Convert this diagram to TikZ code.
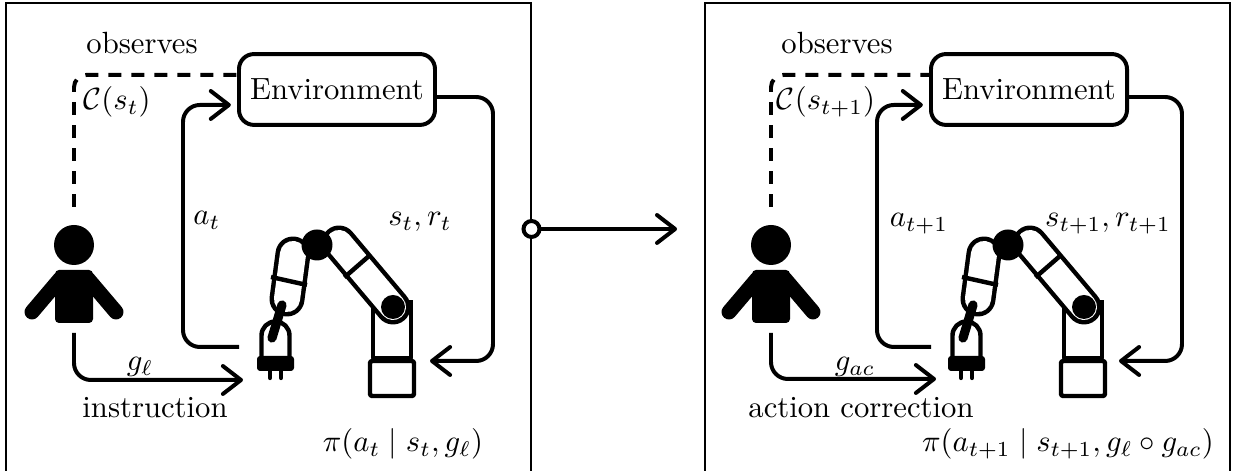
\documentclass[tikz,border=0pt]{standalone}
\usetikzlibrary{arrows.meta}
\begin{document}
\begin{tikzpicture}[x=0.326pt,y=-0.326pt,
  conn/.style={line width=1.3pt, rounded corners=5.5pt},
  flow/.style={conn, -{Straight Barb[length=5.9pt,width=9.1pt,round]}},
  obsline/.style={line width=1.3pt, dash pattern=on 4.2pt off 3.3pt, rounded corners=4pt},
  envbox/.style={draw, line width=1.3pt, rounded corners=4.9pt, minimum width=63.9pt, minimum height=23.1pt, inner sep=0pt},
  panel/.style={draw, line width=0.6pt},
  lbl/.style={anchor=base, inner sep=0pt},
  rob/.style={line width=1.45pt, line join=round},
  linkout/.style={line width=11.4pt, line cap=round},
  linkin/.style={white, line width=8.5pt, line cap=round},
  person/.pic={
    \fill (0,0) circle[radius=20];
    \fill[rounded corners=1.3pt] (-19,25) rectangle (19,78);
    \draw[line width=4.9pt, line cap=round] (-14,34) -- (-42,67);
    \draw[line width=4.9pt, line cap=round] (14,34) -- (42,67);
  },
  robot/.pic={
    % lower column and base
    \draw[rob, fill=white] (56,55) -- (56,113) -- (94,113) -- (94,55);
    \draw[rob, fill=white, rounded corners=0.7pt] (53,116) rectangle (97,151);
    % forearm link
    \draw[linkout] (-24,9) -- (-30,54);
    \draw[linkin] (-24,9) -- (-30,54);
    \draw[rob] (-46,32) -- (-10,40);
    % upper arm link
    \draw[linkout] (22,-2) -- (76,62);
    \draw[linkin] (22,-2) -- (76,62);
    \draw[rob] (27.4,32.4) -- (53.6,9.6);
    % joints
    \fill (0,0) circle[radius=15.5];
    \fill (76,62) circle[radius=12];
    % gripper
    \draw[rob, fill=white] (-55.5,113) -- (-55.5,90.5) arc[start angle=180, end angle=360, radius=14] -- (-27.5,113);
    \fill[rounded corners=1pt] (-60,111) rectangle (-23,126);
    \draw[line width=1.4pt, line cap=round] (-47,125) -- (-47,133) (-36,125) -- (-36,133);
    \draw[line width=3pt, line cap=round] (-35,60) -- (-45,93);
  },
]
\useasboundingbox (0,0) rectangle (1234,471);
\clip (0,0) rectangle (1234,471);

% panel frames (open at the bottom edge)
\draw[panel] (6,520) -- (6,3) -- (531,3) -- (531,520);
\draw[panel] (705,520) -- (705,3) -- (1230,3) -- (1230,520);

% transition between the two time steps
\coordinate (f2w) at (705,229);
\node[circle, draw, fill=white, line width=1.3pt, inner sep=0pt, minimum size=5.2pt] (hub) at (531.5,229) {};
\draw[flow, shorten >=9.1pt] (hub) -- (f2w);

% ---------- time step t ----------
\node[envbox] (env1) at (337,89.5) {Environment};
\node[lbl] (obs1) at (142,54) {observes};
\coordinate (p1) at (74,245);
\pic at (p1) {person};
\coordinate (p1t) at (74,207);
\coordinate (p1b) at (74,333);
\coordinate (r1) at (317,245);
\pic at (r1) {robot};
\coordinate (r1act) at (239,347);
\coordinate (r1goal) at (243,380);
\coordinate (r1obs) at (430,361);
\coordinate (a1c) at (183,347);
\coordinate (s1c) at (493,361);

\draw[obsline] (p1t) |- ([yshift=4.73pt]env1.west);
\draw[flow, shorten >=2pt] (r1act) -- (a1c) |- ([yshift=-5.05pt]env1.west);
\draw[flow] ([yshift=-2.45pt]env1.east) -| (s1c) -- (r1obs);
\draw[flow] (p1b) |- (r1goal);

\node[inner sep=0pt] (c1) at (117,102) {$\mathcal{C}(s_t)$};
\node[lbl] (at1) at (207,225) {$a_t$};
\node[lbl] (sr1) at (420,226) {$s_t, r_t$};
\node[lbl] (g1) at (140,371) {$g_\ell$};
\node[lbl] (ins1) at (155,418) {instruction};
\node[lbl] (pi1) at (403,452) {$\pi(a_t \mid s_t, g_\ell)$};

% ---------- time step t+1 ----------
\node[envbox] (env2) at (1029,89.5) {Environment};
\node[lbl] (obs2) at (837,54) {observes};
\coordinate (p2) at (771,245);
\pic at (p2) {person};
\coordinate (p2t) at (771,207);
\coordinate (p2b) at (771,333);
\coordinate (r2) at (1008,245);
\pic at (r2) {robot};
\coordinate (r2act) at (931,347);
\coordinate (r2goal) at (936,379);
\coordinate (r2obs) at (1119,361);
\coordinate (a2c) at (877,347);
\coordinate (s2c) at (1182,361);

\draw[obsline] (p2t) |- ([yshift=4.73pt]env2.west);
\draw[flow, shorten >=2pt] (r2act) -- (a2c) |- ([yshift=-5.05pt]env2.west);
\draw[flow] ([yshift=-2.45pt]env2.east) -| (s2c) -- (r2obs);
\draw[flow] (p2b) |- (r2goal);

\node[inner sep=0pt] (c2) at (826,102) {$\mathcal{C}(s_{t+1})$};
\node[lbl] (at2) at (919,227) {$a_{t+1}$};
\node[lbl] (sr2) at (1108,227) {$s_{t+1}, r_{t+1}$};
\node[lbl] (g2) at (855,371) {$g_{ac}$};
\node[lbl] (ins2) at (861,418) {action correction};
\node[lbl] (pi2) at (1068,452) {$\pi(a_{t+1} \mid s_{t+1}, g_\ell \circ g_{ac})$};
\end{tikzpicture}
\end{document}
